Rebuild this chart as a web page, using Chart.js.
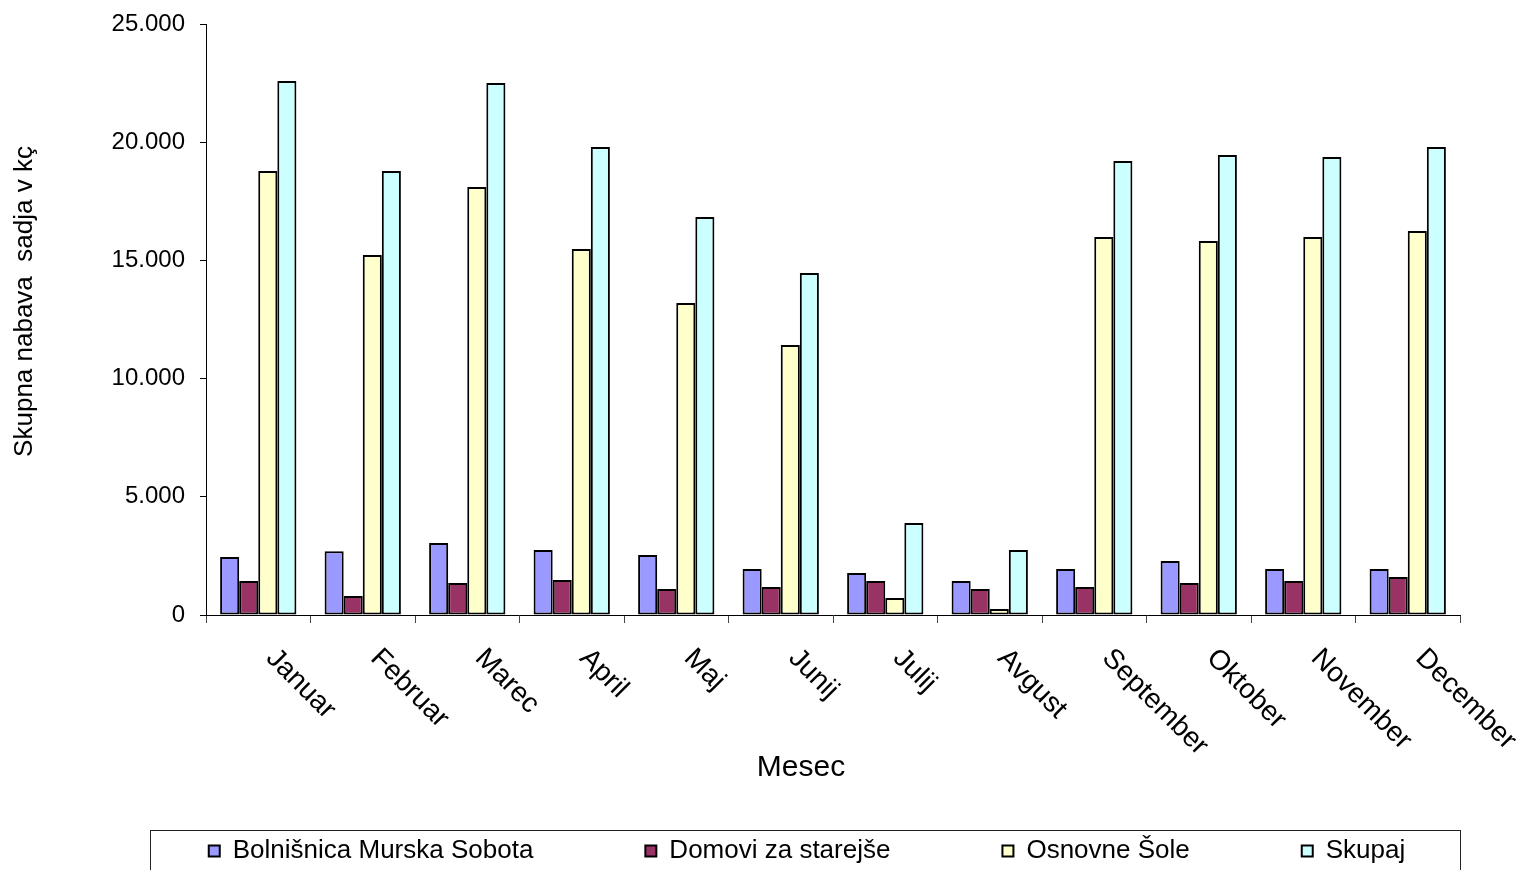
<!DOCTYPE html>
<html lang="sl">
<head>
<meta charset="UTF-8">
<title>Skupna nabava sadja</title>
<script src="https://cdn.jsdelivr.net/npm/chart.js"></script>
<style>
  html, body { margin: 0; padding: 0; background: #fff; }
</style>
</head>
<body>
<canvas id="myChart" width="1518" height="870"></canvas>
<script>
// months on the x axis
const months = ['Januar', 'Februar', 'Marec', 'April', 'Maj', 'Junij', 'Julij', 'Avgust', 'September', 'Oktober', 'November', 'December'];

// kg of fruit per month
const bolnisnica = [2450, 2700, 3050, 2750, 2540, 1950, 1780, 1440, 1950, 2280, 1950, 1950];
const domovi = [1440, 800, 1350, 1480, 1100, 1180, 1440, 1100, 1180, 1350, 1440, 1610];
const osnovneSole = [18780, 15230, 18100, 15480, 13200, 11420, 720, 250, 15990, 15820, 15990, 16240];
const skupaj = [22590, 18780, 22500, 19800, 16840, 14470, 3890, 2750, 19200, 19460, 19370, 19800];

const yTicks = [0, 5000, 10000, 15000, 20000, 25000];

Chart.defaults.font.family = '"Liberation Sans", Arial, sans-serif';
Chart.defaults.color = '#000';

// month names slanted downwards (Excel style), both axis titles and the legend frame
const extras = {
    id: 'extras',
    afterLayout(chart) {
        const lg = chart.legend;
        lg.top = lg.top + 28 - lg.options.labels.padding;
        lg.left = lg.left + 96;
        lg.right = chart.width;
    },
    afterDraw(chart) {
        const ctx = chart.ctx;
        const x = chart.scales.x;
        const y = chart.scales.y;
        ctx.save();
        ctx.fillStyle = '#000';
        ctx.font = '28px "Liberation Sans", Arial, sans-serif';
        ctx.textAlign = 'left';
        ctx.textBaseline = 'top';
        months.forEach((m, i) => {
            ctx.save();
            ctx.translate(x.getPixelForValue(i) + 22, x.top + 29);
            ctx.rotate(Math.PI / 4);
            ctx.fillText(m, 0, 0);
            ctx.restore();
        });

        ctx.textAlign = 'center';
        ctx.textBaseline = 'middle';
        ctx.font = '30px "Liberation Sans", Arial, sans-serif';
        ctx.fillText('Mesec', (x.left + x.right) / 2 - 32, x.top + 153);

        ctx.font = '26px "Liberation Sans", Arial, sans-serif';
        ctx.save();
        ctx.translate(25, (y.top + y.bottom) / 2 - 18);
        ctx.rotate(-Math.PI / 2);
        ctx.fillText('Skupna nabava  sadja v kç', 0, 0);
        ctx.restore();

        // frame round the legend
        const boxes = chart.legend.legendHitBoxes;
        const first = boxes[0];
        const last = boxes[boxes.length - 1];
        const left = Math.round(first.left - 59) + 0.5;
        const right = Math.round(last.left + last.width + 55) + 0.5;
        const top = Math.round(first.top - 8) + 0.5;
        ctx.strokeStyle = '#222';
        ctx.lineWidth = 1;
        ctx.strokeRect(left, top, right - left, chart.height + 10 - top);
        ctx.restore();
    }
};

const bar = (label, data, color) => ({
    label: label,
    data: data,
    backgroundColor: color,
    borderColor: '#000',
    borderWidth: 2,
    borderSkipped: false
});

const ctx = document.getElementById('myChart').getContext('2d');
const myChart = new Chart(ctx, {
    type: 'bar',
    data: {
        labels: months,
        datasets: [
            bar('Bolnišnica Murska Sobota', bolnisnica, '#9999FF'),
            bar('Domovi za starejše', domovi, '#993366'),
            bar('Osnovne Šole', osnovneSole, '#FFFFCC'),
            bar('Skupaj', skupaj, '#CCFFFF')
        ]
    },
    options: {
        responsive: false,
        animation: false,
        layout: {
            padding: { top: 24, right: 58, bottom: 0, left: 0 }
        },
        datasets: {
            bar: {
                categoryPercentage: 0.73,
                barPercentage: 1
            }
        },
        plugins: {
            tooltip: { enabled: false },
            legend: {
                position: 'bottom',
                maxHeight: 60,
                labels: {
                    boxWidth: 11,
                    boxHeight: 11,
                    padding: 112,
                    font: { size: 26 }
                }
            }
        },
        scales: {
            x: {
                ticks: { display: false },
                grid: {
                    offset: true,
                    drawOnChartArea: false,
                    drawTicks: true,
                    tickLength: 8,
                    color: '#444'
                },
                border: { color: '#000', width: 1 },
                afterFit(scale) { scale.height = 195; }
            },
            y: {
                min: 0,
                max: 25000,
                afterBuildTicks(scale) {
                    scale.ticks = yTicks.map(v => ({ value: v }));
                },
                ticks: {
                    padding: 15,
                    font: { size: 24 },
                    callback: v => String(v).replace(/\B(?=(\d{3})+(?!\d))/g, '.')
                },
                grid: {
                    drawOnChartArea: false,
                    drawTicks: true,
                    tickLength: 6,
                    color: '#000'
                },
                border: { color: '#000', width: 1 },
                afterFit(scale) {
                    scale.width = 206;
                    scale.paddingTop = 0;
                }
            }
        }
    },
    plugins: [extras]
});
</script>
</body>
</html>
